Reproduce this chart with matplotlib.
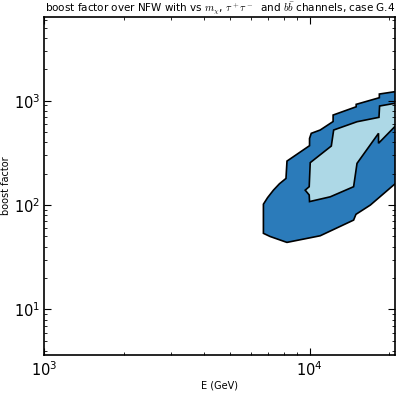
import matplotlib
matplotlib.use("Agg")
import matplotlib.pyplot as plt
from matplotlib.patches import Polygon
import numpy as np

plt.rcParams['mathtext.fontset'] = 'cm'
plt.rcParams['font.family'] = ['DejaVu Sans']

# Outer (dark) contour boundary: energy (GeV), boost factor
outer_E = [21970, 20940, 18330, 18330, 14990, 14990, 12270, 12270, 10970, 10150,
           10000, 10000, 8222, 8150, 7700, 7310, 6950, 6700, 6700, 7100, 8090, 8220, 10970,
           14660, 14960, 16950, 20750, 21970]
outer_B = [1267, 1220, 1159, 1069, 923, 875, 729, 632, 524, 487,
           435, 371, 264, 180, 160, 139, 118, 102, 53.6, 50, 44.5, 43.9, 50.8,
           71.8, 81.5, 100, 155.6, 174]

# Inner (light) contour boundary
inner_E = [21970, 20940, 18370, 18270, 15100, 12330, 12080, 10060, 9970, 9630,
           9970, 10000, 11970, 14660, 15100, 18200, 18200, 20940, 21970]
inner_B = [945, 944, 890, 693, 629, 524, 368, 255, 150, 139,
           125, 108, 120, 150, 251, 487, 391, 563, 625]

xlim = (1000, 21000)
ylim = (3.65, 6400)

fig = plt.figure(figsize=(3.99, 3.95), dpi=100)
fig.patch.set_facecolor('white')
ax = fig.add_axes([0.111, 0.101, 0.879, 0.857])
ax.set_xscale('log')
ax.set_yscale('log')

ax.add_patch(Polygon(np.column_stack([outer_E, outer_B]), closed=True,
                     facecolor='#2B7BBA', edgecolor='black', linewidth=1.2))
ax.add_patch(Polygon(np.column_stack([inner_E, inner_B]), closed=True,
                     facecolor='#ADD8E6', edgecolor='black', linewidth=1.2))

ax.set_xlim(*xlim)
ax.set_ylim(*ylim)

ax.tick_params(which='both', direction='in', top=True, right=True, labelsize=10.5)
ax.tick_params(which='major', length=5, width=0.8)
ax.tick_params(which='minor', length=2.5, width=0.6)
ax.tick_params(axis='x', which='major', pad=4)
ax.tick_params(axis='y', which='major', pad=3)
for s in ax.spines.values():
    s.set_linewidth(1.2)

ax.set_xlabel('E (GeV)', fontsize=7, labelpad=1)
ax.set_ylabel('boost factor', fontsize=7, labelpad=2)
ax.set_title(r'boost factor over NFW with vs $m_\chi$, $\tau^+\tau^-$  and $b\bar{b}$ channels, case G.4',
             fontsize=7.5, pad=3)

fig.savefig('out.png', dpi=100, facecolor='white')
